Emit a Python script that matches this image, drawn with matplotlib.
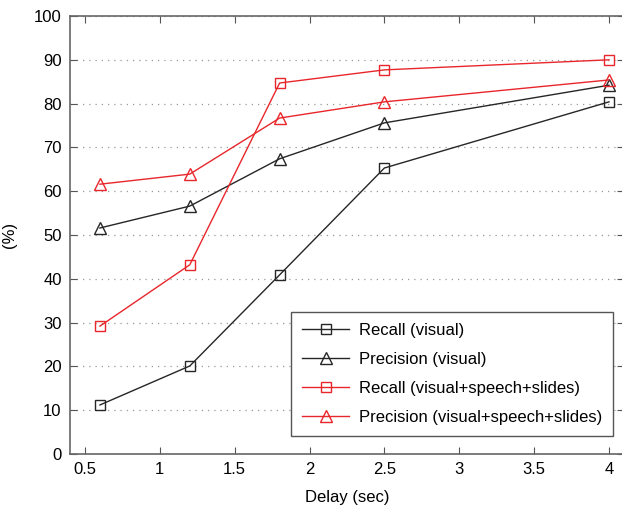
import matplotlib
matplotlib.use("Agg")
import matplotlib.pyplot as plt

plt.rcParams['font.family'] = ['Liberation Sans', 'DejaVu Sans']

delay = [0.6, 1.2, 1.8, 2.5, 4.0]
recall_visual = [11.2, 20.1, 40.9, 65.3, 80.4]
precision_visual = [51.6, 56.6, 67.4, 75.6, 84.2]
recall_all = [29.2, 43.2, 84.7, 87.7, 90.0]
precision_all = [61.6, 63.9, 76.7, 80.4, 85.4]

fig = plt.figure(figsize=(6.22, 5.08), dpi=100)
ax = fig.add_axes([70/622, 1 - 454/508, 554/622, 438/508])

red = '#e8262b'
k = '#262626'
ax.plot(delay, recall_visual, color=k, lw=1, marker='s', ms=7, mfc='none', mec=k, label='Recall (visual)')
ax.plot(delay, precision_visual, color=k, lw=1, marker='^', ms=9, mfc='none', mec=k, label='Precision (visual)')
ax.plot(delay, recall_all, color=red, lw=1, marker='s', ms=7, mfc='none', mec=red, label='Recall (visual+speech+slides)')
ax.plot(delay, precision_all, color=red, lw=1, marker='^', ms=9, mfc='none', mec=red, label='Precision (visual+speech+slides)')

ax.set_xlim(0.4, 4.1)
ax.set_ylim(0, 100)
ax.set_xticks([0.5, 1, 1.5, 2, 2.5, 3, 3.5, 4])
ax.set_xticklabels(['0.5', '1', '1.5', '2', '2.5', '3', '3.5', '4'])
ax.set_yticks(range(0, 101, 10))
ax.yaxis.grid(True, linestyle=(0, (1, 4)), color='#999999', lw=0.9)
ax.tick_params(direction='in', top=True, right=True, labelsize=12, length=5, pad=6, color='#555555')
for s in ax.spines.values():
    s.set_color('#666666')
    s.set_linewidth(1.2)

ax.set_xlabel('Delay (sec)', fontsize=12, labelpad=9)
ax.set_ylabel('(%)', fontsize=12, labelpad=12)

leg = ax.legend(loc='lower right', bbox_to_anchor=(613/622, 1 - 436/508), bbox_transform=fig.transFigure,
                fontsize=12, fancybox=False, framealpha=1, edgecolor='#555555', handlelength=2.8,
                handletextpad=0.6, borderpad=0.65, labelspacing=0.85, borderaxespad=0)
leg.get_frame().set_linewidth(1)

fig.savefig('out.png', dpi=100)
